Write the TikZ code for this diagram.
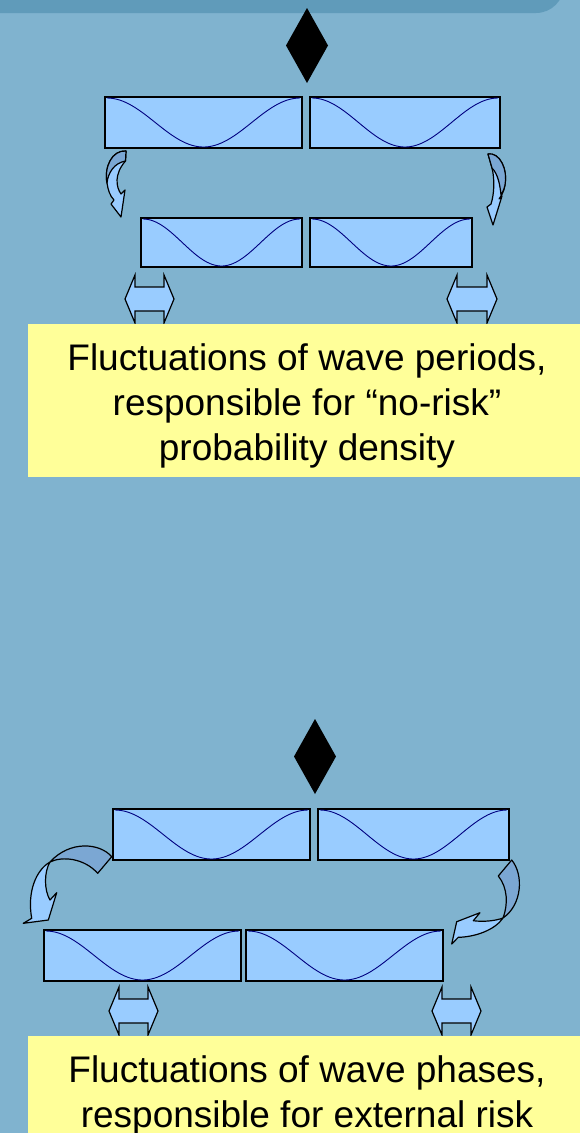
\documentclass[tikz,border=0pt]{standalone}
\usepackage{fontspec}
\setmainfont{Liberation Sans}
\definecolor{bg}{HTML}{80B3CF}
\definecolor{bar}{HTML}{609BBA}
\definecolor{boxfill}{HTML}{99CCFF}
\definecolor{darkrib}{HTML}{7BA7D3}
\definecolor{wave}{HTML}{000080}
\definecolor{notefill}{HTML}{FFFF99}
\newcommand\wrect[5]{%
  \draw[wbox] (#2,#3) rectangle (#4,#5);
  \draw[wline] plot[variable=\t,domain=0:1,samples=60,smooth] ({#2+2+\t*(#4-#2-4)},{#3+1+(#5-#3-2)*(1-cos(360*\t))/2});
  \coordinate (#1) at ({(#2+#4)/2},{(#3+#5)/2});
}
\newcommand\lrarrow[4]{%
  \draw[dbl] (#2,#4) -- ({#2+10},{#4-24}) -- ({#2+10},{#4-12}) -- ({#3-10},{#4-12}) -- ({#3-10},{#4-24}) -- (#3,#4) -- ({#3-10},{#4+24}) -- ({#3-10},{#4+12}) -- ({#2+10},{#4+12}) -- ({#2+10},{#4+24}) -- cycle;
  \coordinate (#1) at ({(#2+#3)/2},#4);
}
\begin{document}
\begin{tikzpicture}[x=1pt,y=-1pt,
  wbox/.style={draw=black, line width=1.2pt, fill=boxfill},
  wline/.style={draw=wave, line width=0.9pt},
  rib/.style={draw=black, line width=1.2pt, fill=boxfill, line join=round},
  ribdark/.style={draw=black, line width=1.2pt, fill=darkrib, line join=round},
  dbl/.style={draw=black, line width=1.2pt, fill=boxfill},
  txt/.style={font=\fontsize{37}{45}\selectfont, anchor=base, inner sep=0pt, text=black}]
\useasboundingbox (0,0) rectangle (580,1133);
\clip (0,0) rectangle (580,1133);
\fill[bg] (0,0) rectangle (580,1133);
\fill[bar, rounded corners=28pt] (-40,-40) rectangle (564,13);

% diamonds
\fill[black] (307,8) -- (328,45.5) -- (307,83) -- (286,45.5) -- cycle;
\coordinate (d1) at (307,45.5);
\fill[black] (315,719) -- (336,756.5) -- (315,794) -- (294,756.5) -- cycle;
\coordinate (d2) at (315,756.5);

% wave boxes
\wrect{ra}{105}{97}{302}{148}
\wrect{rb}{310}{97}{500}{148}
\wrect{rc}{141}{218}{302}{267}
\wrect{rd}{310}{218}{472}{267}
\wrect{re}{113}{809}{310}{860}
\wrect{rf}{318}{809}{509}{860}
\wrect{rg}{44}{930}{241}{981}
\wrect{rh}{246}{930}{443}{981}

% curved arrows, top
\draw[rib] (126,151) .. controls (112,150) and (104,167) .. (107,183) .. controls (108,190) and (110,196) .. (114,200) -- (111,204) -- (121,217) -- (125,190) -- (121,194) .. controls (116,187) and (114,174) .. (125.5,161) -- cycle;
\draw[ribdark] (126,151) .. controls (112,150) and (104,167) .. (107,183) .. controls (108,173) and (114,163) .. (125.5,161) -- cycle;

\draw[rib] (488,154) .. controls (500,152) and (508,170) .. (505,185) .. controls (504,192) and (501,196) .. (499,199) -- (502,196) -- (493,225) -- (487,207) -- (491,204) .. controls (494,195) and (495,180) .. (492,168) -- cycle;
\draw[ribdark] (488,154) .. controls (500,152) and (508,170) .. (505,185) .. controls (504,190) and (502,193) .. (501,195) .. controls (500,185) and (498,174) .. (492,168) -- cycle;

% curved arrows, bottom
\draw[rib] (50,862) .. controls (36,870) and (27,892) .. (31.7,918.3) -- (23.3,923.3) -- (48.3,920) -- (56.7,892.7) -- (50,900) .. controls (44,890) and (44,872) .. (50,862) -- cycle;
\draw[ribdark] (111.7,856.7) .. controls (100,843) and (70,840) .. (50,862) .. controls (62,856) and (84,858) .. (97.7,873.3) -- cycle;

\draw[ribdark] (511.7,860) .. controls (524,875) and (522,905) .. (503,918) .. controls (508,905) and (508,888) .. (498.3,876) -- cycle;
\draw[rib] (503,918) .. controls (495,930) and (475,937) .. (458.3,937.3) -- (451.7,944) -- (456.7,921.7) -- (480,912.7) -- (473.3,920.7) .. controls (483,922) and (495,921) .. (503,918) -- cycle;

% left-right arrows
\lrarrow{la}{125}{174}{299}
\lrarrow{lb}{447}{497}{299}
\lrarrow{lc}{109}{158}{1011}
\lrarrow{ld}{432}{481}{1011}

% notes
\fill[notefill] (28,323.5) rectangle (590,476.5);
\fill[notefill] (28,1035.5) rectangle (590,1145);
\node[txt] (t1) at (307,370) {Fluctuations of wave periods,};
\node[txt] (t2) at (307,415) {responsible for “no-risk”};
\node[txt] (t3) at (307,460) {probability density};
\node[txt] (t4) at (307,1082) {Fluctuations of wave phases,};
\node[txt] (t5) at (307,1127) {responsible for external risk};
\end{tikzpicture}
\end{document}
